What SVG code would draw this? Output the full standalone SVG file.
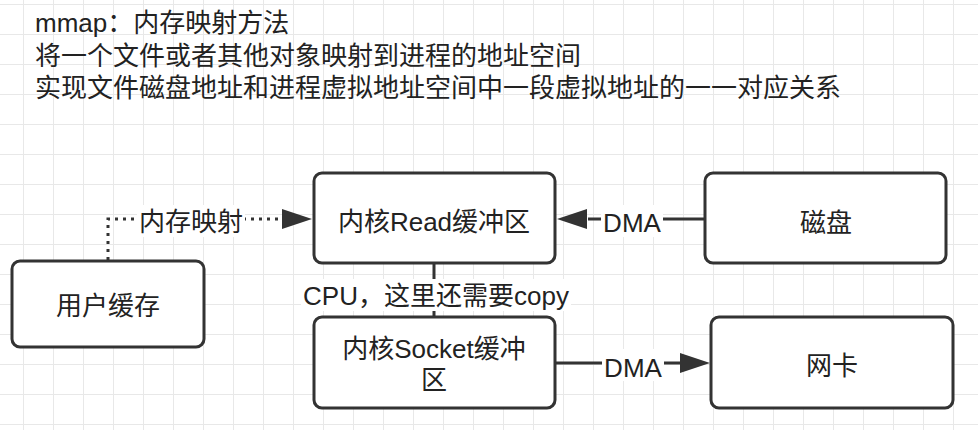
<svg xmlns="http://www.w3.org/2000/svg" width="978" height="430" viewBox="0 0 978 430">
<style>
text{font-family:"Liberation Sans","Noto Sans CJK SC",sans-serif;font-size:26px;fill:#222}
.node{fill:#fff;stroke:#333;stroke-width:3}
.c{text-anchor:middle}
.edge{fill:none;stroke:#333;stroke-width:3}
.dot{stroke-dasharray:3 5}
.lbl{fill:#fff}
</style>
<defs>
<pattern id="grid" x="23" y="4" width="30" height="30" patternUnits="userSpaceOnUse">
<path d="M0 0.5H30M0.5 0V30" fill="none" stroke="#e8e8e8" stroke-width="1"/>
</pattern>
<marker id="arr" viewBox="0 0 10 10" refX="10" refY="5" markerWidth="10" markerHeight="7" markerUnits="userSpaceOnUse" orient="auto">
<path d="M0 0L10 5L0 10Z" fill="#333"/>
</marker>
<marker id="big" viewBox="0 0 30 20" refX="30" refY="10" markerWidth="30" markerHeight="20" markerUnits="userSpaceOnUse" orient="auto">
<path d="M0 0L30 10L0 20Z" fill="#333"/>
</marker>
</defs>
<rect width="978" height="430" fill="#fff"/>
<rect width="978" height="430" fill="url(#grid)"/>
<g id="title">
<text x="35" y="32">mmap：内存映射方法</text>
<text x="35" y="65">将一个文件或者其他对象映射到进程的地址空间</text>
<text x="35" y="97">实现文件磁盘地址和进程虚拟地址空间中一段虚拟地址的一一对应关系</text>
</g>
<g id="connectors">
<path class="edge dot" d="M108 260V219H282"/>
<path d="M282 209L312 219L282 229Z" fill="#333"/>
<rect class="lbl" x="137" y="205" width="108" height="32"/>
<text class="c" x="191" y="231">内存映射</text>
<path class="edge" d="M705 219H588"/>
<path d="M587 209L557 219L587 229Z" fill="#333"/>
<rect class="lbl" x="601" y="205" width="62" height="32"/>
<text class="c" x="632" y="232">DMA</text>
<path class="edge" d="M434 264V316"/>
<rect class="lbl" x="301" y="279" width="270" height="32"/>
<text class="c" x="436" y="305">CPU，这里还需要copy</text>
<path class="edge" d="M556 363H680"/>
<path d="M680 353L710 363L680 373Z" fill="#333"/>
<rect class="lbl" x="602" y="349" width="62" height="32"/>
<text class="c" x="633" y="377">DMA</text>
</g>
<g id="user-cache">
<rect class="node" x="12" y="261" width="192" height="86" rx="8"/>
<text class="c" x="108" y="315">用户缓存</text>
</g>
<g id="kernel-read">
<rect class="node" x="314" y="173" width="241" height="90" rx="8"/>
<text class="c" x="434" y="231">内核Read缓冲区</text>
</g>
<g id="disk">
<rect class="node" x="705" y="173" width="241" height="90" rx="8"/>
<text class="c" x="826" y="232">磁盘</text>
</g>
<g id="kernel-socket">
<rect class="node" x="314" y="317" width="241" height="91" rx="8"/>
<text class="c" x="434" y="358">内核Socket缓冲</text>
<text class="c" x="434" y="389">区</text>
</g>
<g id="nic">
<rect class="node" x="711" y="317" width="242" height="91" rx="8"/>
<text class="c" x="832" y="375">网卡</text>
</g>
</svg>
